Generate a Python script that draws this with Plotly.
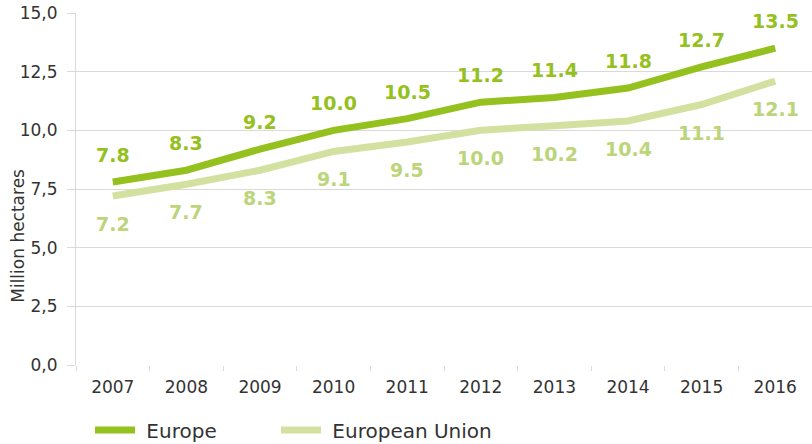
import plotly.graph_objects as go

years = ["2007", "2008", "2009", "2010", "2011", "2012", "2013", "2014", "2015", "2016"]
europe = [7.8, 8.3, 9.2, 10.0, 10.5, 11.2, 11.4, 11.8, 12.7, 13.5]
eu = [7.2, 7.7, 8.3, 9.1, 9.5, 10.0, 10.2, 10.4, 11.1, 12.1]
y_ticks = [0, 2.5, 5, 7.5, 10, 12.5, 15]

c_europe = "#95C11F"
c_eu = "#D3E1A0"
c_eu_text = "#BCD47A"
grid = "#D9D9D9"
font = "DejaVu Sans"
txt = "#333333"

fig = go.Figure()
fig.add_trace(go.Scatter(x=years, y=europe, mode="lines", name="\u00a0Europe",
                         line=dict(color=c_europe, width=7), legend="legend"))
fig.add_trace(go.Scatter(x=years, y=eu, mode="lines", name="\u00a0European Union",
                         line=dict(color=c_eu, width=7), legend="legend2"))

for i, v in enumerate(europe):
    fig.add_annotation(x=i, y=v, text=f"<b>{v:.1f}</b>", showarrow=False, yshift=27,
                       font=dict(family=font, size=19, color=c_europe))
for i, v in enumerate(eu):
    fig.add_annotation(x=i, y=v, text=f"<b>{v:.1f}</b>", showarrow=False, yshift=-28,
                       font=dict(family=font, size=19, color=c_eu_text))

fig.add_annotation(xref="paper", yref="paper", x=-0.078, y=0.366, xanchor="center", yanchor="middle",
                   text="Million hectares", textangle=-90, showarrow=False,
                   font=dict(family=font, size=17, color=txt))

legend_common = dict(orientation="h", xref="container", xanchor="left",
                     y=(444 - 430) / 444, yref="container", yanchor="middle",
                     font=dict(family=font, size=20, color=txt), itemwidth=40,
                     bgcolor="rgba(0,0,0,0)")

fig.update_layout(
    width=812, height=444,
    margin=dict(l=76, r=0, t=13, b=79),
    paper_bgcolor="white", plot_bgcolor="white",
    separators=",.",
    font=dict(family=font, size=16, color=txt),
    showlegend=True,
    legend=dict(x=90 / 812, **legend_common),
    legend2=dict(x=276 / 812, **legend_common),
    xaxis=dict(type="category", range=[-0.5, 9.5], tickson="boundaries",
               ticks="outside", ticklen=5, tickcolor=grid,
               showline=False, showgrid=False, zeroline=False,
               ticklabelstandoff=10,
               tickfont=dict(family=font, size=17, color=txt)),
    yaxis=dict(range=[0, 15], tickvals=y_ticks, tickformat=".1f",
               showgrid=True, gridcolor=grid, gridwidth=1,
               ticks="outside", ticklen=8, tickcolor=grid,
               showline=True, linecolor=grid, linewidth=1,
               zeroline=False, ticklabelstandoff=6,
               tickfont=dict(family=font, size=17, color=txt)),
)

fig.write_html("out.html", config={"displayModeBar": False},
               post_script="document.body.style.margin='0px';")
